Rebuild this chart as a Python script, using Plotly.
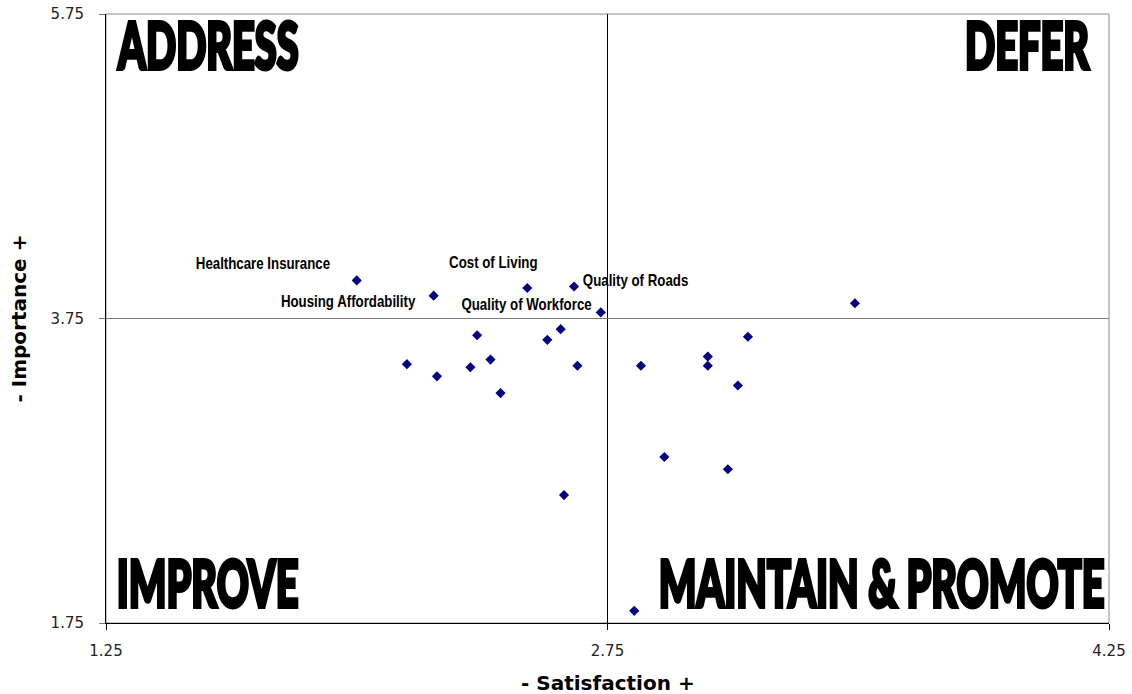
import plotly.graph_objects as go

# ---------------- data ----------------
satisfaction = [2.00, 2.23, 2.51, 2.65, 2.73, 3.49, 2.36, 2.57, 2.61, 2.15, 2.24, 2.34,
                2.40, 2.43, 2.66, 2.85, 3.05, 3.05, 3.17, 3.14, 2.92, 3.11, 2.62, 2.83]
importance = [4.00, 3.90, 3.95, 3.96, 3.79, 3.85, 3.64, 3.61, 3.68, 3.45, 3.37, 3.43,
              3.48, 3.26, 3.44, 3.44, 3.50, 3.44, 3.63, 3.31, 2.84, 2.76, 2.59, 1.83]
point_labels = ["Healthcare Insurance", "Housing Affordability", "Cost of Living",
                "Quality of Roads", "Quality of Workforce"] + [""] * 19

x_ticks = [1.25, 2.75, 4.25]
y_ticks = [1.75, 3.75, 5.75]
mid_x = 2.75
mid_y = 3.75
quadrant_names = ["ADDRESS", "DEFER", "IMPROVE", "MAINTAIN & PROMOTE"]
x_title = "- Satisfaction +"
y_title = "- Importance +"

# ---------------- styling / placement ----------------
label_offsets = {  # pixel shifts of label centre from its point
    "Healthcare Insurance": (-94, 17),
    "Housing Affordability": (-86, -6),
    "Cost of Living": (-34, 26),
    "Quality of Roads": (61, 6),
    "Quality of Workforce": (-74, 8),
}
quadrant_pos = [  # paper coords of label centres
    (0.102, 0.950),
    (0.918, 0.950),
    (0.101, 0.066),
    (0.773, 0.066),
]

fig = go.Figure()
fig.add_trace(go.Scatter(
    x=satisfaction, y=importance, mode="markers",
    marker=dict(symbol="diamond", size=7.8, color="#000080", line=dict(width=0)),
    hoverinfo="x+y", showlegend=False,
))

annotations = []
for name, (px, py) in zip(quadrant_names, quadrant_pos):
    annotations.append(dict(
        text=name, xref="paper", yref="paper", x=px, y=py, xanchor="center", yanchor="middle",
        showarrow=False,
        font=dict(family="Lato, DejaVu Sans", size=64, color="black", weight=900),
    ))
for sx, iy, lab in zip(satisfaction, importance, point_labels):
    if lab:
        dx, dy = label_offsets[lab]
        annotations.append(dict(
            text=lab, x=sx, y=iy, xref="x", yref="y", xanchor="center", yanchor="middle",
            xshift=dx, yshift=dy, showarrow=False,
            font=dict(family="Liberation Sans", size=16, color="black", weight="bold"),
        ))
annotations.append(dict(
    text=x_title, xref="paper", yref="paper", x=0.5, y=0, yshift=-60, xanchor="center",
    yanchor="middle", showarrow=False,
    font=dict(family="DejaVu Sans", size=20, color="black", weight="bold"),
))
annotations.append(dict(
    text=y_title, xref="paper", yref="paper", x=0, y=0.5, xshift=-88, xanchor="center",
    yanchor="middle", textangle=-90, showarrow=False,
    font=dict(family="DejaVu Sans", size=20, color="black", weight="bold"),
))

shapes = [
    dict(type="rect", xref="paper", yref="paper", x0=0, y0=0, x1=1, y1=1,
         line=dict(color="#8c8c8c", width=1), layer="below"),
    dict(type="line", xref="x", yref="paper", x0=mid_x, x1=mid_x, y0=0, y1=1,
         line=dict(color="black", width=1), layer="below"),
    dict(type="line", xref="paper", yref="y", x0=0, x1=1, y0=mid_y, y1=mid_y,
         line=dict(color="#777777", width=1), layer="below"),
]

tick_font = dict(family="DejaVu Sans", size=15, color="#222222")
fig.update_layout(
    width=1132, height=694,
    margin=dict(l=106, r=23, t=14, b=71, autoexpand=False),
    paper_bgcolor="white", plot_bgcolor="white",
    annotations=annotations, shapes=shapes,
    xaxis=dict(range=[x_ticks[0], x_ticks[-1]], tickvals=x_ticks, automargin=False,
               ticktext=[f"{v:.2f}" for v in x_ticks], showgrid=False, zeroline=False,
               showline=True, linecolor="black", linewidth=1, ticks="outside",
               ticklen=6, tickcolor="black", tickfont=tick_font, ticklabelstandoff=8),
    yaxis=dict(range=[y_ticks[0], y_ticks[-1]], tickvals=y_ticks, automargin=False,
               ticktext=[f"{v:.2f}" for v in y_ticks], showgrid=False, zeroline=False,
               showline=True, linecolor="black", linewidth=1, ticks="outside",
               ticklen=6, tickcolor="#777777", tickfont=tick_font, ticklabelstandoff=12),
)

n_q = len(quadrant_names)
n_l = sum(1 for l in point_labels if l)
css = ["html,body{margin:0 !important;padding:0 !important;overflow:hidden !important;}"]
for i in range(n_q):
    css.append(
        f'g.annotation[data-index="{i}"] text.annotation-text{{'
        'transform-box:fill-box !important;transform-origin:center !important;'
        'transform:scaleX(0.62) !important;stroke:black !important;'
        'stroke-width:4px !important;stroke-linejoin:miter !important;}')
for i in range(n_q, n_q + n_l):
    css.append(
        f'g.annotation[data-index="{i}"] text.annotation-text{{'
        'transform-box:fill-box !important;transform-origin:center !important;'
        'transform:scaleX(0.83) !important;}')
css_text = "".join(css)
post_js = ("var st=document.createElement('style');st.textContent=" + repr(css_text)
           + ";document.head.appendChild(st);")

fig.write_html("out.html", post_script=post_js, config={"displayModeBar": False})
